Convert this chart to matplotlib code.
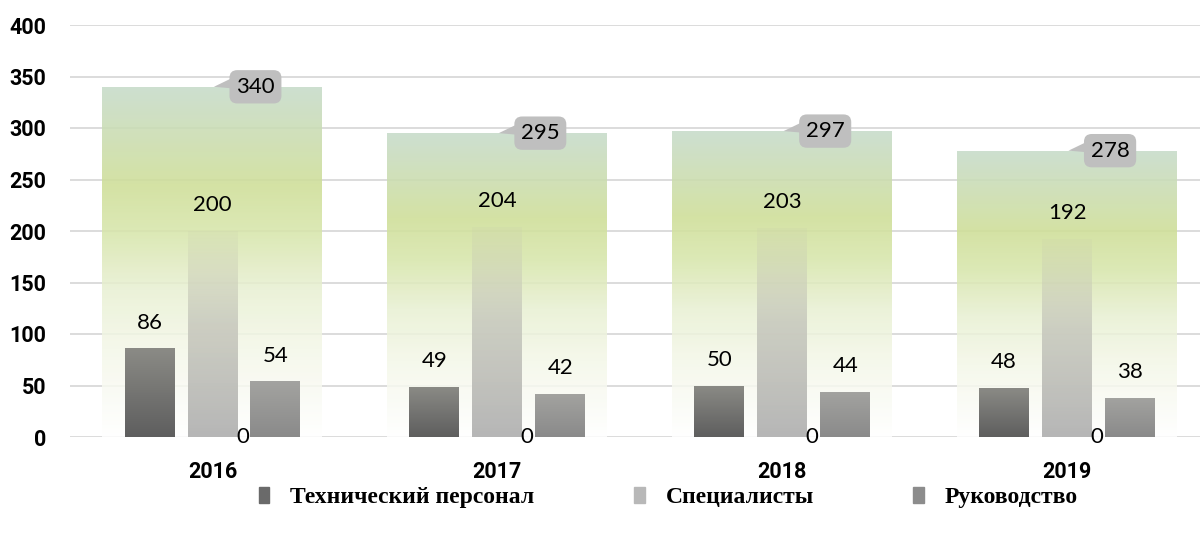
import numpy as np
import matplotlib.pyplot as plt
from matplotlib.colors import LinearSegmentedColormap, to_rgba
from matplotlib.patches import Patch, Polygon

# ── Datos ─────────────────────────────────────────────────────────────
years = ['2016', '2017', '2018', '2019']
totals = [340, 295, 297, 278]
tech = [86, 49, 50, 48]
spec = [200, 204, 203, 192]
mgmt = [54, 42, 44, 38]
zeros = [0, 0, 0, 0]
series_names = ['Технический персонал', 'Специалисты', 'Руководство']

label_font = 'Lato'
tick_font = 'Roboto'
legend_font = 'Liberation Serif'

fig = plt.figure(figsize=(12, 5.34), dpi=100)
ax = fig.add_axes([70 / 1200, 97 / 534, 1130 / 1200, 412 / 534])

x = np.arange(len(years))
ax.set_xlim(-0.5, (1200 - 69.5) / 285 - 0.5)
ax.set_ylim(0, 400)


def gradient_bar(ax, xc, h, w, stops, z):
    # barra transparente + imagen con degradado recortada a la barra
    bar = ax.bar(xc, h, w, color='none', edgecolor='none', zorder=z)[0]
    cmap = LinearSegmentedColormap.from_list('g', stops)
    grad = np.linspace(0, 1, 256).reshape(-1, 1)
    im = ax.imshow(grad, cmap=cmap, origin='lower', aspect='auto',
                   extent=[xc - w / 2, xc + w / 2, 0, h], zorder=z,
                   interpolation='bicubic')
    im.set_clip_path(bar)


total_stops = [(0.0, to_rgba('#ffffff', 0.85)), (0.25, to_rgba('#f4f7e8', 0.85)),
               (0.42, to_rgba('#e8f0d2', 0.85)), (0.58, to_rgba('#d8e6ac', 0.88)),
               (0.72, to_rgba('#cfdf9a', 0.9)), (1.0, to_rgba('#c8dccb', 0.9))]
tech_stops = [(0.0, '#5e5e5e'), (1.0, '#8b8b86')]
spec_stops = [(0.0, to_rgba('#b6b6b6', 1.0)), (0.55, to_rgba('#c9cabf', 0.9)),
              (1.0, to_rgba('#c8ccae', 0.15))]
mgmt_stops = [(0.0, '#8a8a8a'), (1.0, '#a3a3a0')]

# líneas de la cuadrícula
for yv in range(0, 401, 50):
    ax.axhline(yv, color='#d9d9d9', lw=1.3, zorder=0.5)

bw = 0.772
sw = 0.175
off = 0.221
for i in x:
    gradient_bar(ax, i, totals[i], bw, total_stops, 1)
    gradient_bar(ax, i - off, tech[i], sw, tech_stops, 2)
    gradient_bar(ax, i, spec[i], sw, spec_stops, 2)
    gradient_bar(ax, i + off, mgmt[i], sw, mgmt_stops, 2)

    for xv, v in [(i - off, tech[i]), (i, spec[i]), (i + off, mgmt[i])]:
        ax.text(xv, v + 25, str(v), ha='center', va='center',
                fontsize=16, family=label_font, zorder=5)
    ax.text(i + 0.105, zeros[i], str(zeros[i]), ha='center', va='center',
            fontsize=16, family=label_font, zorder=5)

    # globo con el total
    bx, by = i + 0.151, totals[i]
    ax.text(bx, by, str(totals[i]), ha='center', va='center', fontsize=16,
            family=label_font, zorder=6,
            bbox=dict(boxstyle='round,pad=0.3,rounding_size=0.35',
                      fc='#bfbfbf', ec='none'))
    tail = Polygon([(i + 0.005, totals[i]), (i + 0.08, totals[i] + 10),
                    (i + 0.09, totals[i] - 2)],
                   closed=True, fc='#bfbfbf', ec='none', zorder=6)
    ax.add_patch(tail)

ax.set_xticks(x)
ax.set_xticklabels(years, fontsize=15.5, fontweight='bold', family=tick_font)
ax.set_yticks(range(0, 401, 50))
ax.set_yticklabels([str(v) for v in range(0, 401, 50)], fontsize=15.5,
                   fontweight='bold', family=tick_font)
ax.tick_params(axis='x', length=0, pad=17)
ax.tick_params(axis='y', length=0, pad=17)
for s in ax.spines.values():
    s.set_visible(False)
ax.set_facecolor('none')

handles = [Patch(color='#6a6a6a'), Patch(color='#b8b8b8'), Patch(color='#8c8c8c')]
fig.legend(handles, series_names, loc='center', bbox_to_anchor=(0.557, 0.068),
           ncol=3, frameon=False, handlelength=0.45, handleheight=0.7,
           handletextpad=0.9, columnspacing=4.2,
           prop=dict(family=legend_font, weight='bold', size=17))

fig.savefig('out.png', dpi=100)
